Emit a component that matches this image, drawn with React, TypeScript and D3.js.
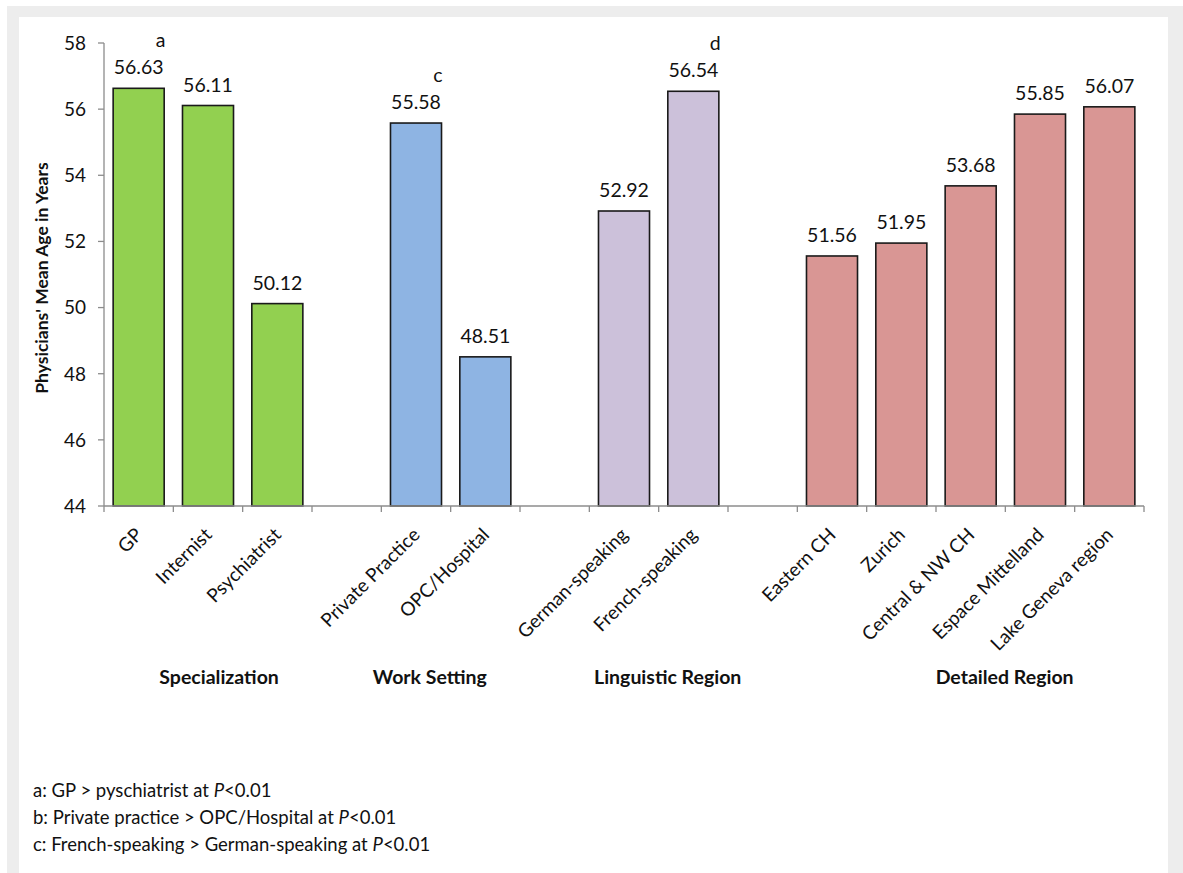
import React from "react";
import * as d3 from "d3";

const categories = [
  "GP", "Internist", "Psychiatrist", "",
  "Private Practice", "OPC/Hospital", "",
  "German-speaking", "French-speaking", "",
  "Eastern CH", "Zurich", "Central & NW CH", "Espace Mittelland", "Lake Geneva region",
];
const values: (number | null)[] = [
  56.63, 56.11, 50.12, null,
  55.58, 48.51, null,
  52.92, 56.54, null,
  51.56, 51.95, 53.68, 55.85, 56.07,
];
const groupOf = [0, 0, 0, -1, 1, 1, -1, 2, 2, -1, 3, 3, 3, 3, 3];
const groupNames = ["Specialization", "Work Setting", "Linguistic Region", "Detailed Region"];
const groupColors = ["#92d050", "#8eb4e3", "#ccc1da", "#d99694"];
const groupLabelSlot = [1.66, 4.7, 8.13, 12.99];
const yTicks = [44, 46, 48, 50, 52, 54, 56, 58];
const annotations = [
  { idx: 0, letter: "a" },
  { idx: 4, letter: "c" },
  { idx: 8, letter: "d" },
];
const footnotes = [
  ["a: GP > pyschiatrist at ", "P", "<0.01"],
  ["b: Private practice > OPC/Hospital at ", "P", "<0.01"],
  ["c: French-speaking > German-speaking at ", "P", "<0.01"],
];

const W = 1183, H = 873;
const left = 104, right = 1144, top = 43, bottom = 506;
const FONT = "Lato, 'Open Sans', sans-serif";

export default function App() {
  const x = d3.scaleBand<number>()
    .domain(categories.map((_, i) => i))
    .range([left, right])
    .paddingInner(0.264)
    .paddingOuter(0.132);
  const step = (right - left) / categories.length;
  const y = d3.scaleLinear().domain([44, 58]).range([bottom, top]);
  const slotX = (s: number) => left + s * step;

  return (
    <svg width={W} height={H} style={{ position: "absolute", left: 0, top: 0, background: "#fff" }}
      fontFamily={FONT}>
      {/* frame */}
      <rect x={7} y={6} width={W - 7} height={H - 6} fill="#ededed" />
      <rect x={19} y={17} width={1168 - 19} height={H - 17} fill="#ffffff" />

      {/* bars */}
      {values.map((v, i) =>
        v == null ? null : (
          <g key={i}>
            <rect x={x(i)} y={y(v)} width={x.bandwidth()} height={y(44) - y(v)}
              fill={groupColors[groupOf[i]]} stroke="#1a1a1a" strokeWidth={1.6} />
            <text x={x(i)! + x.bandwidth() / 2} y={y(v) - 14} textAnchor="middle"
              fontSize={19.5} fill="#111">{v.toFixed(2)}</text>
          </g>
        )
      )}

      {annotations.map((a) => (
        <text key={a.letter} x={x(a.idx)! + x.bandwidth() / 2 + 22} y={y(values[a.idx]!) - 41}
          textAnchor="middle" fontSize={19.5} fill="#111">{a.letter}</text>
      ))}

      {/* y axis */}
      <line x1={left} x2={left} y1={top} y2={bottom} stroke="#8c8c8c" strokeWidth={1.3} />
      {yTicks.map((t) => (
        <g key={t}>
          <line x1={left - 6} x2={left} y1={y(t)} y2={y(t)} stroke="#8c8c8c" strokeWidth={1.3} />
          <text x={86} y={y(t)} dy="0.36em" textAnchor="end" fontSize={19} fill="#111">{t}</text>
        </g>
      ))}
      <text transform={`translate(48,278) rotate(-90)`} textAnchor="middle" fontSize={17.5}
        fontWeight="bold" fill="#111">Physicians' Mean Age in Years</text>

      {/* x axis */}
      <line x1={left} x2={right} y1={bottom} y2={bottom} stroke="#8c8c8c" strokeWidth={1.3} />
      {d3.range(categories.length + 1).map((k) => (
        <line key={k} x1={slotX(k)} x2={slotX(k)} y1={bottom} y2={bottom + 6}
          stroke="#8c8c8c" strokeWidth={1.3} />
      ))}
      {categories.map((c, i) =>
        c ? (
          <text key={i} transform={`translate(${slotX(i + 0.5) + 5},${bottom + 30}) rotate(-45)`}
            textAnchor="end" fontSize={19} fill="#111">{c}</text>
        ) : null
      )}

      {groupNames.map((g, k) => (
        <text key={g} x={slotX(groupLabelSlot[k])} y={684} textAnchor="middle" fontSize={19.5}
          fontWeight="bold" fill="#111">{g}</text>
      ))}

      {footnotes.map((f, k) => (
        <text key={k} x={33} y={797 + k * 27} fontSize={18.5} fill="#111">
          {f[0]}<tspan fontStyle="italic">{f[1]}</tspan>{f[2]}
        </text>
      ))}
    </svg>
  );
}
